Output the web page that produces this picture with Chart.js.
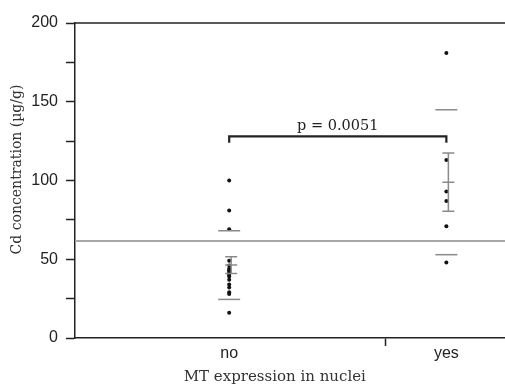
<!DOCTYPE html>
<html>
<head>
<meta charset="utf-8">
<script src="https://cdn.jsdelivr.net/npm/chart.js@4.4.1/dist/chart.umd.min.js"></script>
<style>
  html, body { margin: 0; padding: 0; background: #fff; }
  #wrap { width: 505px; height: 386px; }
</style>
</head>
<body>
<div id="wrap"><canvas id="cdChart" width="505" height="386"></canvas></div>
<script>
// Data
const groups = ['no', 'yes'];
const noValues = [100, 81, 69, 49, 46, 44, 43, 42, 41, 40, 39, 37, 34, 32, 29, 28, 16];
const yesValues = [181, 113, 93, 87, 71, 48];
const groupMeans = [46.3, 98.9];
const groupSD = [21.8, 46.0];
const groupSE = [5.3, 18.5];
const cutoffValue = 61.6;
const bracketValue = 128;
const bracketDrop = 124;
const pLabel = 'p = 0.0051';
const yTickValues = [0, 25, 50, 75, 100, 125, 150, 175, 200];
const yLabelledTicks = [0, 50, 100, 150, 200];
const xDividerTick = 1.72;
const xRange = [0.29, 2.27];

const serif = '"DejaVu Serif", serif';
const sans = '"Liberation Sans", Arial, sans-serif';

// points for each group sit on x = 1, 2
const pointData = [];
[noValues, yesValues].forEach(function(vals, i) {
    vals.forEach(function(v) { pointData.push({ x: i + 1, y: v }); });
});
const sdData = [];
groupMeans.forEach(function(m, i) {
    sdData.push({ x: i + 1, y: m + groupSD[i] });
    sdData.push({ x: i + 1, y: m - groupSD[i] });
});

// extra drawing: SE bars, top frame line, significance bracket, axis titles
const extrasPlugin = {
    id: 'extras',
    afterDatasetsDraw: function(chart) {
        const c = chart.ctx;
        const xs = chart.scales.x, ys = chart.scales.y;
        const area = chart.chartArea;
        c.save();

        // SE error bars
        c.strokeStyle = '#8a8a8a';
        c.lineWidth = 1.5;
        groupMeans.forEach(function(m, i) {
            const px = xs.getPixelForValue(i + 1) + 2;
            const top = ys.getPixelForValue(m + groupSE[i]);
            const mid = ys.getPixelForValue(m);
            const bot = ys.getPixelForValue(m - groupSE[i]);
            c.beginPath();
            c.moveTo(px, top); c.lineTo(px, bot);
            [top, mid, bot].forEach(function(y) {
                c.moveTo(px - 6, y); c.lineTo(px + 6, y);
            });
            c.stroke();
        });

        // top frame line
        c.strokeStyle = '#222';
        c.lineWidth = 1.5;
        const yTop = ys.getPixelForValue(200);
        c.beginPath();
        c.moveTo(area.left, yTop); c.lineTo(chart.width, yTop);
        c.stroke();

        // significance bracket
        const x1 = xs.getPixelForValue(1), x2 = xs.getPixelForValue(2);
        const yb = ys.getPixelForValue(bracketValue), yd = ys.getPixelForValue(bracketDrop);
        c.lineWidth = 2.2;
        c.beginPath();
        c.moveTo(x1, yd); c.lineTo(x1, yb); c.lineTo(x2, yb); c.lineTo(x2, yd);
        c.stroke();
        c.fillStyle = '#222';
        c.font = '14.5px ' + serif;
        c.textAlign = 'center';
        c.textBaseline = 'bottom';
        c.fillText(pLabel, (x1 + x2) / 2, yb - 3);

        // y axis title
        c.save();
        c.translate(17, ys.getPixelForValue(107));
        c.rotate(-Math.PI / 2);
        c.textAlign = 'center';
        c.textBaseline = 'middle';
        c.font = '14px ' + serif;
        c.fillStyle = '#333';
        c.fillText('Cd concentration (\u00b5g/g)', 0, 0);
        c.restore();

        // x axis title
        c.textAlign = 'center';
        c.textBaseline = 'middle';
        c.font = '15px ' + serif;
        c.fillStyle = '#333';
        c.fillText('MT expression in nuclei', xs.getPixelForValue(1.21), 377);

        c.restore();
    }
};

new Chart(document.getElementById('cdChart'), {
    type: 'scatter',
    data: {
        datasets: [
            {
                // horizontal cut-off line
                type: 'line',
                data: [{ x: xRange[0], y: cutoffValue }, { x: xRange[1], y: cutoffValue }],
                borderColor: '#a8a8a8',
                borderWidth: 2,
                pointRadius: 0
            },
            {
                // mean +/- SD markers
                data: sdData,
                pointStyle: 'line',
                pointRadius: 11,
                borderColor: '#8a8a8a',
                borderWidth: 1.5
            },
            {
                data: pointData,
                pointRadius: 2,
                backgroundColor: '#111',
                borderColor: '#111',
                borderWidth: 0
            }
        ]
    },
    options: {
        responsive: false,
        animation: false,
        layout: { autoPadding: false, padding: { top: 23, right: 0, left: 0, bottom: 0 } },
        plugins: { legend: { display: false }, tooltip: { enabled: false } },
        scales: {
            x: {
                type: 'linear',
                min: xRange[0],
                max: xRange[1],
                afterBuildTicks: function(scale) {
                    scale.ticks = [{ value: 1 }, { value: xDividerTick }, { value: 2 }];
                },
                afterFit: function(scale) {
                    scale.height = 48;
                    scale.paddingLeft = 0;
                    scale.paddingRight = 0;
                },
                ticks: {
                    autoSkip: false,
                    maxRotation: 0,
                    padding: -2,
                    color: '#222',
                    font: { family: sans, size: 16 },
                    callback: function(v) {
                        if (v === 1) return groups[0];
                        if (v === 2) return groups[1];
                        return '';
                    }
                },
                grid: {
                    drawOnChartArea: false,
                    tickLength: 8,
                    tickWidth: 1.5,
                    tickColor: function(ctx) {
                        return ctx.tick && ctx.tick.value === xDividerTick ? '#222' : 'rgba(0,0,0,0)';
                    }
                },
                border: { color: '#222', width: 1.5 }
            },
            y: {
                min: 0,
                max: 200,
                afterBuildTicks: function(scale) {
                    scale.ticks = yTickValues.map(function(v) { return { value: v }; });
                },
                afterFit: function(scale) { scale.width = 75; },
                ticks: {
                    padding: 8,
                    color: '#222',
                    font: { family: sans, size: 16 },
                    callback: function(v) {
                        return yLabelledTicks.indexOf(v) >= 0 ? v : '';
                    }
                },
                grid: {
                    drawOnChartArea: false,
                    tickLength: 9,
                    tickWidth: 1.5,
                    tickColor: '#222'
                },
                border: { color: '#222', width: 1.5 }
            }
        }
    },
    plugins: [extrasPlugin]
});
</script>
</body>
</html>
